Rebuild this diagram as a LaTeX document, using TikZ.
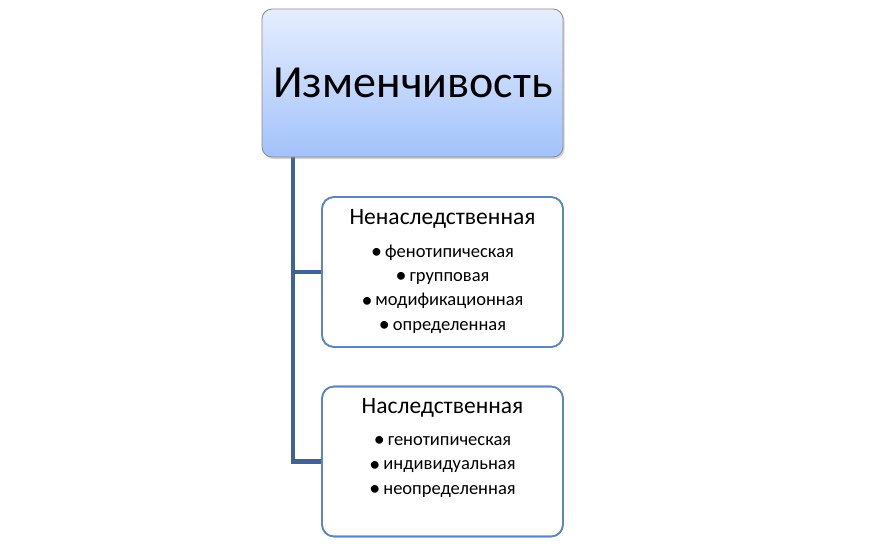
\documentclass[tikz,border=0pt]{standalone}
\usepackage{fontspec}
\setmainfont{Carlito}
\usetikzlibrary{shadows}
\definecolor{linec}{HTML}{3F6298}
\definecolor{boxb}{HTML}{5B86C0}
\definecolor{gtop}{HTML}{E6EEFE}
\definecolor{gbot}{HTML}{A2C2FB}
\newcommand{\mybul}{\raisebox{-1.5pt}{\fontsize{22}{22}\selectfont•}\hspace{3pt}}
\begin{document}
\begin{tikzpicture}[x=1pt,y=-1pt,
  topbox/.style={draw=black!45, line width=0.8pt, rounded corners=10pt, top color=gtop, bottom color=gbot, minimum width=301pt, minimum height=148pt, inner sep=0pt, drop shadow={shadow xshift=1.5pt, shadow yshift=-2pt, opacity=0.35}},
  subbox/.style={draw=boxb, line width=1.6pt, rounded corners=12pt, fill=white, minimum width=241pt, minimum height=150pt, inner sep=0pt},
  conn/.style={draw=linec, line width=4.5pt},
  ttl/.style={font=\fontsize{23.5}{26}\selectfont, inner sep=0pt, anchor=base},
  itm/.style={font=\fontsize{18.5}{21}\selectfont, inner sep=0pt, anchor=base}]
\useasboundingbox (0,0) rectangle (869,552);
\fill[white] (0,0) rectangle (869,552);
\coordinate (j) at (293,150);
\node[subbox] (b2) at (442.5,272) {};
\node[subbox] (b3) at (442.5,461.5) {};
\draw[conn] (j) -- (j |- b3.west) -- (b3.west);
\draw[conn] (j |- b2.west) -- (b2.west);
\node[subbox, fill=none] (b2f) at (442.5,272) {};
\node[subbox, fill=none] (b3f) at (442.5,461.5) {};
\node[topbox] (top) at (412.5,83) {};
\node[font=\fontsize{46}{50}\selectfont, inner sep=0pt] (toptxt) at (413,83) {Изменчивость};
\node[ttl] (t2) at (442.5,224) {Ненаследственная};
\node[itm] (i21) at (442.5,257) {\mybul фенотипическая};
\node[itm] (i22) at (442.5,281) {\mybul групповая};
\node[itm] (i23) at (442.5,305.5) {\mybul модификационная};
\node[itm] (i24) at (442.5,330) {\mybul определенная};
\node[ttl] (t3) at (442.5,413) {Наследственная};
\node[itm] (i31) at (442.5,445) {\mybul генотипическая};
\node[itm] (i32) at (442.5,469.5) {\mybul индивидуальная};
\node[itm] (i33) at (442.5,494) {\mybul неопределенная};
\end{tikzpicture}
\end{document}
